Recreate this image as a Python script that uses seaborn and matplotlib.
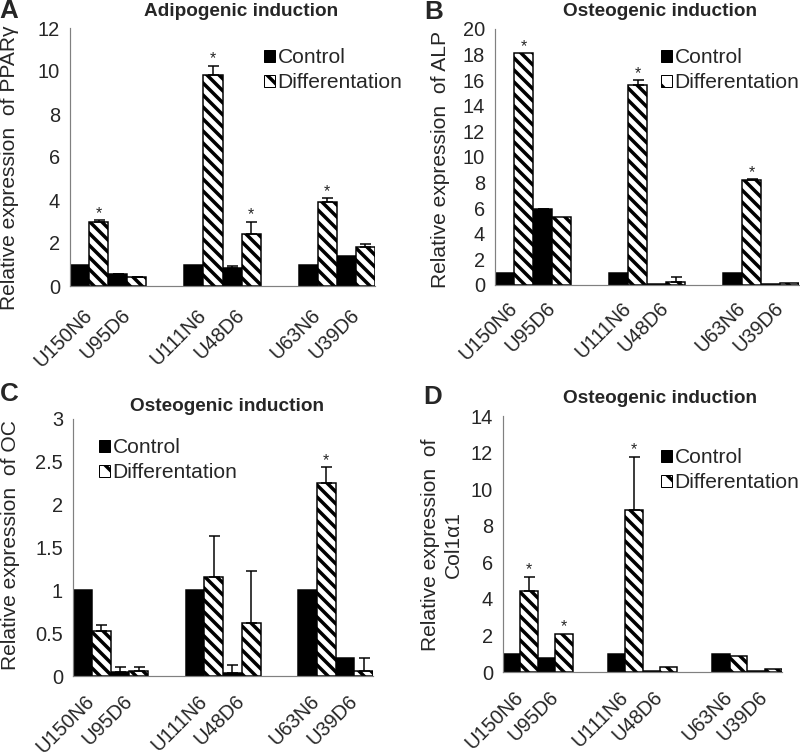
import pandas as pd
import matplotlib.pyplot as plt
import matplotlib.transforms as mtransforms
import seaborn as sns
from matplotlib.patches import Patch
from matplotlib.ticker import MultipleLocator, FuncFormatter

W, H = 800, 755  # output size in pixels (dpi 72 -> 1 pt == 1 px)

strains = ["U150N6", "U95D6", "U111N6", "U48D6", "U63N6", "U39D6"]
# blank slots keep the three strain pairs apart
slot_order = ["U150N6", "U95D6", " ", "U111N6", "U48D6", "  ", "U63N6", "U39D6"]
groups = ["Control", "Differentation"]

# A - PPARgamma, adipogenic induction
pparg_control = [1.0, 0.55, 1.0, 0.85, 1.0, 1.4]
pparg_control_err = [0, 0.03, 0, 0.1, 0, 0]
pparg_diff = [3.0, 0.4, 9.8, 2.4, 3.9, 1.8]
pparg_diff_err = [0.05, 0.03, 0.45, 0.6, 0.2, 0.15]
pparg_stars = ["U150N6", "U111N6", "U48D6", "U63N6"]

# B - ALP, osteogenic induction
alp_control = [0.9, 5.9, 0.9, 0.1, 0.9, 0.1]
alp_control_err = [0, 0.05, 0, 0, 0, 0]
alp_diff = [18.1, 5.3, 15.6, 0.2, 8.2, 0.15]
alp_diff_err = [0, 0, 0.4, 0.4, 0.05, 0]
alp_stars = ["U150N6", "U111N6", "U63N6"]

# C - OC, osteogenic induction
oc_control = [1.0, 0.05, 1.0, 0.04, 1.0, 0.21]
oc_control_err = [0, 0.06, 0, 0.09, 0, 0]
oc_diff = [0.52, 0.06, 1.15, 0.62, 2.25, 0.06]
oc_diff_err = [0.07, 0.05, 0.48, 0.61, 0.19, 0.15]
oc_stars = ["U63N6"]

# D - Col1a1, osteogenic induction
col_control = [1.0, 0.76, 1.0, 0.05, 1.0, 0.05]
col_control_err = [0, 0, 0, 0, 0, 0]
col_diff = [4.45, 2.1, 8.85, 0.3, 0.9, 0.15]
col_diff_err = [0.77, 0, 2.93, 0, 0, 0]
col_stars = ["U150N6", "U95D6", "U111N6"]

sns.set_style("white")
plt.rcParams["font.family"] = ["Liberation Sans", "DejaVu Sans"]
plt.rcParams["hatch.linewidth"] = 3.5
plt.rcParams["hatch.color"] = "black"

FS = 21       # legend / axis label text
TICK_FS = 20  # tick labels
AXIS_GREY = "#808080"
HATCH = "\\\\"


def fx(x):
    return x / W


def fy(y):
    return 1 - y / H


def draw_panel(ax, control, control_err, diff, diff_err, stars, ymax, ystep, xpad):
    df = pd.DataFrame({
        "strain": strains * 2,
        "group": [groups[0]] * len(strains) + [groups[1]] * len(strains),
        "value": control + diff,
        "err": control_err + diff_err,
    })
    sns.barplot(data=df, x="strain", y="value", hue="group", order=slot_order,
                hue_order=groups, palette={groups[0]: "black", groups[1]: "white"},
                width=1.0, saturation=1, edgecolor="black", linewidth=1.5,
                errorbar=None, legend=False, ax=ax)
    for bar in ax.containers[1]:
        bar.set_hatch(HATCH)

    # one-sided error bars and significance marks
    for container, group in zip(ax.containers, groups):
        sub = df[df["group"] == group].set_index("strain")
        for bar in container:
            cx = bar.get_x() + bar.get_width() / 2
            name = slot_order[int(round(cx))]
            top = bar.get_height()
            err = sub.loc[name, "err"]
            if err > 0:
                ax.errorbar(cx, top, yerr=[[0], [err]], fmt="none", ecolor="black",
                            elinewidth=1.5, capsize=5.5, capthick=1.5)
            if group == groups[1] and name in stars:
                ax.annotate("*", (cx, top + err), xytext=(0, 2), textcoords="offset points",
                            ha="center", va="baseline", fontsize=16)

    # bars run flush from the y axis to the end of the x axis
    ax.set_xlim(-0.5, len(slot_order) - 0.5)
    ax.set_ylim(0, ymax)
    ax.yaxis.set_major_locator(MultipleLocator(ystep))
    ax.yaxis.set_major_formatter(FuncFormatter(lambda v, p: f"{v:g}"))
    ax.set_xlabel("")
    ax.set_ylabel("")
    for side in ["top", "right"]:
        ax.spines[side].set_visible(False)
    for side in ["left", "bottom"]:
        ax.spines[side].set_color(AXIS_GREY)
        ax.spines[side].set_linewidth(1.2)
    ax.tick_params(axis="y", direction="in", length=4, color=AXIS_GREY, labelsize=TICK_FS, pad=10)
    ax.tick_params(axis="x", length=0, labelsize=TICK_FS, pad=xpad)
    shift = mtransforms.ScaledTranslation(4 / 72, 0, fig.dpi_scale_trans)
    for label in ax.get_xticklabels():
        label.set_rotation(45)
        label.set_ha("right")
        label.set_va("baseline")
        label.set_rotation_mode("anchor")
        label.set_transform(label.get_transform() + shift)


def add_legend(ax, x, y):
    handles = [Patch(facecolor="black", edgecolor="black"),
               Patch(facecolor="white", edgecolor="black", hatch="\\")]
    ax.legend(handles=handles, labels=groups, loc="upper left",
              bbox_to_anchor=(fx(x), fy(y)), bbox_transform=fig.transFigure,
              frameon=False, fontsize=FS, handlelength=0.5, handleheight=0.5,
              handletextpad=0.15, labelspacing=0.3, borderpad=0, borderaxespad=0)


fig = plt.figure(figsize=(W / 72, H / 72), dpi=72)

ax_a = fig.add_axes([fx(70), fy(286), fx(305), 258 / H])
ax_b = fig.add_axes([fx(495), fy(285), fx(304), 256 / H])
ax_c = fig.add_axes([fx(73), fy(676), fx(300), 257 / H])
ax_d = fig.add_axes([fx(503), fy(672), fx(279), 256 / H])

draw_panel(ax_a, pparg_control, pparg_control_err, pparg_diff, pparg_diff_err, pparg_stars, 12, 2, 30)
draw_panel(ax_b, alp_control, alp_control_err, alp_diff, alp_diff_err, alp_stars, 20, 2, 24)
draw_panel(ax_c, oc_control, oc_control_err, oc_diff, oc_diff_err, oc_stars, 3, 0.5, 26)
draw_panel(ax_d, col_control, col_control_err, col_diff, col_diff_err, col_stars, 14, 2, 26)

add_legend(ax_a, 264, 48)
add_legend(ax_b, 661, 48)
add_legend(ax_c, 99, 438)
add_legend(ax_d, 661, 448)

# panel letters, titles and y labels
for letter, x, y in [("A", 9, 11), ("B", 434, 12), ("C", 9, 394), ("D", 433, 397)]:
    fig.text(fx(x), fy(y), letter, fontsize=26, fontweight="bold", ha="center", va="center")

for title, x, y in [("Adipogenic induction", 241, 12), ("Osteogenic induction", 660, 12),
                    ("Osteogenic induction", 227, 407), ("Osteogenic induction", 660, 398)]:
    fig.text(fx(x), fy(y), title, fontsize=19, fontweight="bold", ha="center", va="center")

for text, x, y in [("Relative expression  of PPARγ", 10, 168),
                   ("Relative expression  of ALP", 440, 159),
                   ("Relative expression  of OC", 11, 545),
                   ("Relative expression  of\nCol1α1", 442, 545)]:
    fig.text(fx(x), fy(y), text, fontsize=FS, rotation=90, ha="center", va="center",
             multialignment="center", linespacing=1.3)

fig.savefig("out.png", dpi=72)
plt.close(fig)
